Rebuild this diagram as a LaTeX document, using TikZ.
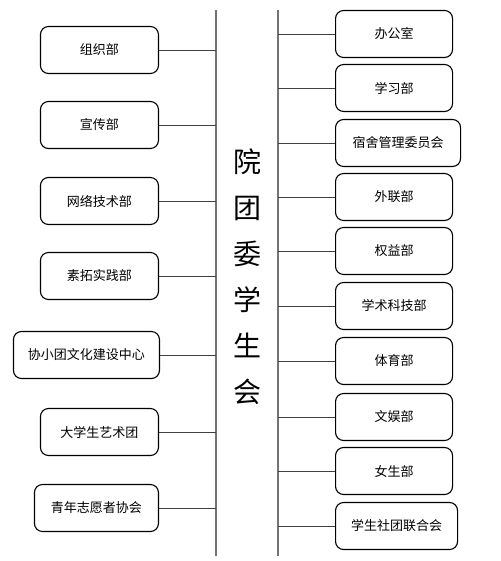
\documentclass[tikz,border=0pt]{standalone}
\usepackage{fontspec}
\setmainfont{Noto Sans CJK SC}
\usetikzlibrary{positioning}

\tikzset{
    dept/.style = {draw, line width = 1.1pt, rounded corners = 8pt, minimum height = 47pt,
                   minimum width = 118pt, inner sep = 0pt, font = \fontsize{13}{13}\selectfont},
    link/.style = {line width = 0.9pt, draw = black!75},
    spine/.style = {line width = 1.4pt, draw = black!55}
}

\begin{document}
\begin{tikzpicture}[x = 1pt, y = -1pt]
    \useasboundingbox (0,0) rectangle (500,561);

    % the two trunk lines
    \coordinate (ltop) at (216,10);
    \coordinate (lbot) at (216,556);
    \coordinate (rtop) at (278,10);
    \coordinate (rbot) at (278,556);
    \draw[spine] (ltop) -- (lbot);
    \draw[spine] (rtop) -- (rbot);

    \node (title) [font = \fontsize{28}{46}\selectfont, align = center] at (247,277)
        {院\\团\\委\\学\\生\\会};

    % left side
    \node (lA) [dept, anchor = east] at (159,50) {组织部};
    \node (lB) [dept, anchor = east] at (159,125) {宣传部};
    \node (lC) [dept, anchor = east] at (159,201) {网络技术部};
    \node (lD) [dept, anchor = east] at (159,276) {素拓实践部};
    \node (lE) [dept, anchor = east, minimum width = 146pt] at (160,355) {协小团文化建设中心};
    \node (lF) [dept, anchor = east] at (159,432) {大学生艺术团};
    \node (lG) [dept, anchor = east, minimum width = 124pt] at (159,508) {青年志愿者协会};

    \draw[link] (lA.east) -- (lA.east -| ltop);
    \draw[link] (lB.east) -- (lB.east -| ltop);
    \draw[link] (lC.east) -- (lC.east -| ltop);
    \draw[link] (lD.east) -- (lD.east -| ltop);
    \draw[link] (lE.east) -- (lE.east -| ltop);
    \draw[link] (lF.east) -- (lF.east -| ltop);
    \draw[link] (lG.east) -- (lG.east -| ltop);

    % right side
    \node (rA) [dept, anchor = west, minimum width = 117pt] at (335,34) {办公室};
    \node (rB) [dept, anchor = west, minimum width = 117pt] at (335,88) {学习部};
    \node (rC) [dept, anchor = west, minimum width = 125pt] at (335,143) {宿舍管理委员会};
    \node (rD) [dept, anchor = west, minimum width = 117pt] at (335,197) {外联部};
    \node (rE) [dept, anchor = west, minimum width = 117pt] at (335,251) {权益部};
    \node (rF) [dept, anchor = west, minimum width = 117pt] at (335,306) {学术科技部};
    \node (rG) [dept, anchor = west, minimum width = 117pt] at (335,361) {体育部};
    \node (rH) [dept, anchor = west, minimum width = 117pt] at (335,417) {文娱部};
    \node (rI) [dept, anchor = west, minimum width = 117pt] at (335,471) {女生部};
    \node (rJ) [dept, anchor = west, minimum width = 122pt] at (335,526) {学生社团联合会};

    \draw[link] (rA.west) -- (rA.west -| rtop);
    \draw[link] (rB.west) -- (rB.west -| rtop);
    \draw[link] (rC.west) -- (rC.west -| rtop);
    \draw[link] (rD.west) -- (rD.west -| rtop);
    \draw[link] (rE.west) -- (rE.west -| rtop);
    \draw[link] (rF.west) -- (rF.west -| rtop);
    \draw[link] (rG.west) -- (rG.west -| rtop);
    \draw[link] (rH.west) -- (rH.west -| rtop);
    \draw[link] (rI.west) -- (rI.west -| rtop);
    \draw[link] (rJ.west) -- (rJ.west -| rtop);

\end{tikzpicture}
\end{document}
